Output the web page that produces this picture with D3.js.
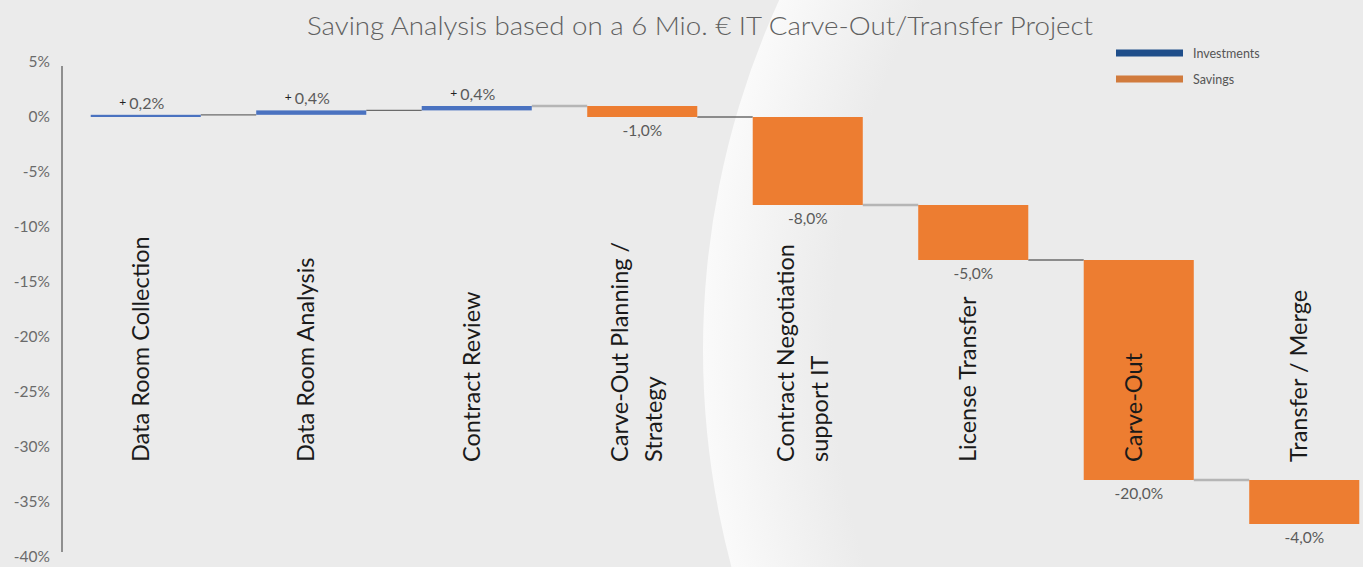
<!DOCTYPE html>
<html><head><meta charset="utf-8">
<script src="https://cdn.jsdelivr.net/npm/d3@7/dist/d3.min.js"></script>
<style>html,body{margin:0;padding:0;background:#ebebeb;overflow:hidden}</style>
</head><body>
<svg id="c" width="1363" height="567"></svg>
<script>
const title = "Saving Analysis based on a 6 Mio. € IT Carve-Out/Transfer Project";
const categories = ["Data Room Collection","Data Room Analysis","Contract Review","Carve-Out Planning / Strategy","Contract Negotiation support IT","License Transfer","Carve-Out","Transfer / Merge"];
const categoryLines = [["Data Room Collection"],["Data Room Analysis"],["Contract Review"],["Carve-Out Planning /","Strategy"],["Contract Negotiation","support IT"],["License Transfer"],["Carve-Out"],["Transfer / Merge"]];
const deltas = [0.2, 0.4, 0.4, -1.0, -8.0, -5.0, -20.0, -4.0];
const yTicks = [5,0,-5,-10,-15,-20,-25,-30,-35,-40];
const legendItems = ["Investments","Savings"];

const svg = d3.select("#c");
const W = 1363, H = 567;
const FONT = "Lato, 'Noto Sans', sans-serif";

// background
svg.append("rect").attr("width",W).attr("height",H).attr("fill","#ebebeb");
const defs = svg.append("defs");
const cx = 1545, cy = 350, rOuter = 842, rInner = 712;
const rg = defs.append("radialGradient").attr("id","sw").attr("gradientUnits","userSpaceOnUse")
  .attr("cx",cx).attr("cy",cy).attr("r",rOuter);
rg.append("stop").attr("offset",(rInner/rOuter)).attr("stop-color","#ebebeb");
rg.append("stop").attr("offset",0.93).attr("stop-color","#f3f3f3");
rg.append("stop").attr("offset",1).attr("stop-color","#fafafa");
const arcP = d3.path();
arcP.arc(cx,cy,rOuter,0,2*Math.PI);
arcP.moveTo(cx+rInner,cy);
arcP.arc(cx,cy,rInner,0,2*Math.PI);
svg.append("path").attr("d",arcP.toString()).attr("fill","url(#sw)").attr("fill-rule","evenodd");

// scales
const y = d3.scaleLinear().domain([-40,5]).range([557,62]);
const x = d3.scaleBand().domain(categories).range([63,1387]).paddingInner(0.335).paddingOuter(0.1675);

// running totals
let run = 0;
const rows = categories.map((c,i)=>{ const start = run; run += deltas[i]; return {c, i, start, end: run, d: deltas[i], lines: categoryLines[i]}; });

const loc = d3.formatLocale({decimal:",", thousands:".", grouping:[3], currency:["","€"], minus:"-"});
const fmt = loc.format(".1f");

// title
svg.append("text").attr("x",700).attr("y",35).attr("text-anchor","middle")
  .attr("font-family",FONT).attr("font-size",25).attr("font-weight",300).attr("fill","#606060")
  .attr("textLength",786).attr("lengthAdjust","spacingAndGlyphs").text(title);

// y axis
const yAxis = d3.axisLeft(y).tickValues(yTicks).tickSize(0).tickPadding(12).tickFormat(d=>d+"%");
const ga = svg.append("g").attr("transform","translate(62,0)").call(yAxis);
ga.select(".domain").attr("stroke","#8f8f8f").attr("stroke-width",2).attr("d","M0,66V552");
ga.selectAll("text").attr("font-family",FONT).attr("font-size",15.5).attr("fill","#6a6a6a");

// connectors
const conn = rows.slice(0,-1).map((r,i)=>({x1:x(r.c)+x.bandwidth(), x2:x(rows[i+1].c), v:r.end, i}));
svg.append("g").selectAll("line").data(conn).join("line")
  .attr("x1",d=>d.x1).attr("x2",d=>d.x2).attr("y1",d=>y(d.v)).attr("y2",d=>y(d.v))
  .attr("stroke",d=>d.i%2===0 && d.i!==0 ? "#b5b5b5" : "#6b6b6b")
  .attr("stroke-width",d=>d.i%2===0 && d.i!==0 ? 2.5 : 1.3);

// bars
svg.append("g").selectAll("rect").data(rows).join("rect")
  .attr("x",d=>x(d.c)).attr("width",x.bandwidth())
  .attr("y",d=>y(Math.max(d.start,d.end))).attr("height",d=>Math.abs(y(d.start)-y(d.end)))
  .attr("fill",d=>d.d>0?"#4a72c0":"#ed7d31");

// value labels
const vl = svg.append("g").attr("font-family",FONT);
rows.forEach(r=>{
  const cxm = x(r.c)+x.bandwidth()/2;
  if(r.d>0){
    const t = vl.append("text").attr("x",cxm-4).attr("y",y(r.end)-6).attr("text-anchor","middle");
    t.append("tspan").attr("font-size",12).attr("fill","#222").attr("dy",-3).text("+ ");
    t.append("tspan").attr("font-size",16).attr("fill","#5a5a5a").attr("dy",3).text(fmt(r.d)+"%");
  } else {
    vl.append("text").attr("x",cxm).attr("y",y(r.end)+19).attr("text-anchor","middle")
      .attr("font-size",15.5).attr("fill","#5a5a5a").text(fmt(r.d)+"%");
  }
});

// category labels (rotated)
const cl = svg.append("g").attr("font-family",FONT).attr("font-size",23.5).attr("fill","#1a1a1a");
rows.forEach(r=>{
  const cxm = x(r.c)+x.bandwidth()/2 - 6;
  const n = r.lines.length, lh = 34;
  r.lines.forEach((ln,k)=>{
    const lx = cxm + (k-(n-1)/2)*lh;
    cl.append("text").attr("transform",`translate(${lx},462) rotate(-90)`)
      .attr("text-anchor","start").attr("dominant-baseline","central").text(ln);
  });
});

// legend
const lg = svg.append("g").attr("font-family",FONT).attr("font-size",12.5).attr("fill","#555");
const lcol = ["#1f4e8a","#d17b3d"];
legendItems.forEach((t,i)=>{
  const ly = 53 + i*26;
  lg.append("line").attr("x1",1116).attr("x2",1183).attr("y1",ly).attr("y2",ly).attr("stroke",lcol[i]).attr("stroke-width",7);
  lg.append("text").attr("x",1193).attr("y",ly).attr("dominant-baseline","central").text(t);
});
</script>
</body></html>
